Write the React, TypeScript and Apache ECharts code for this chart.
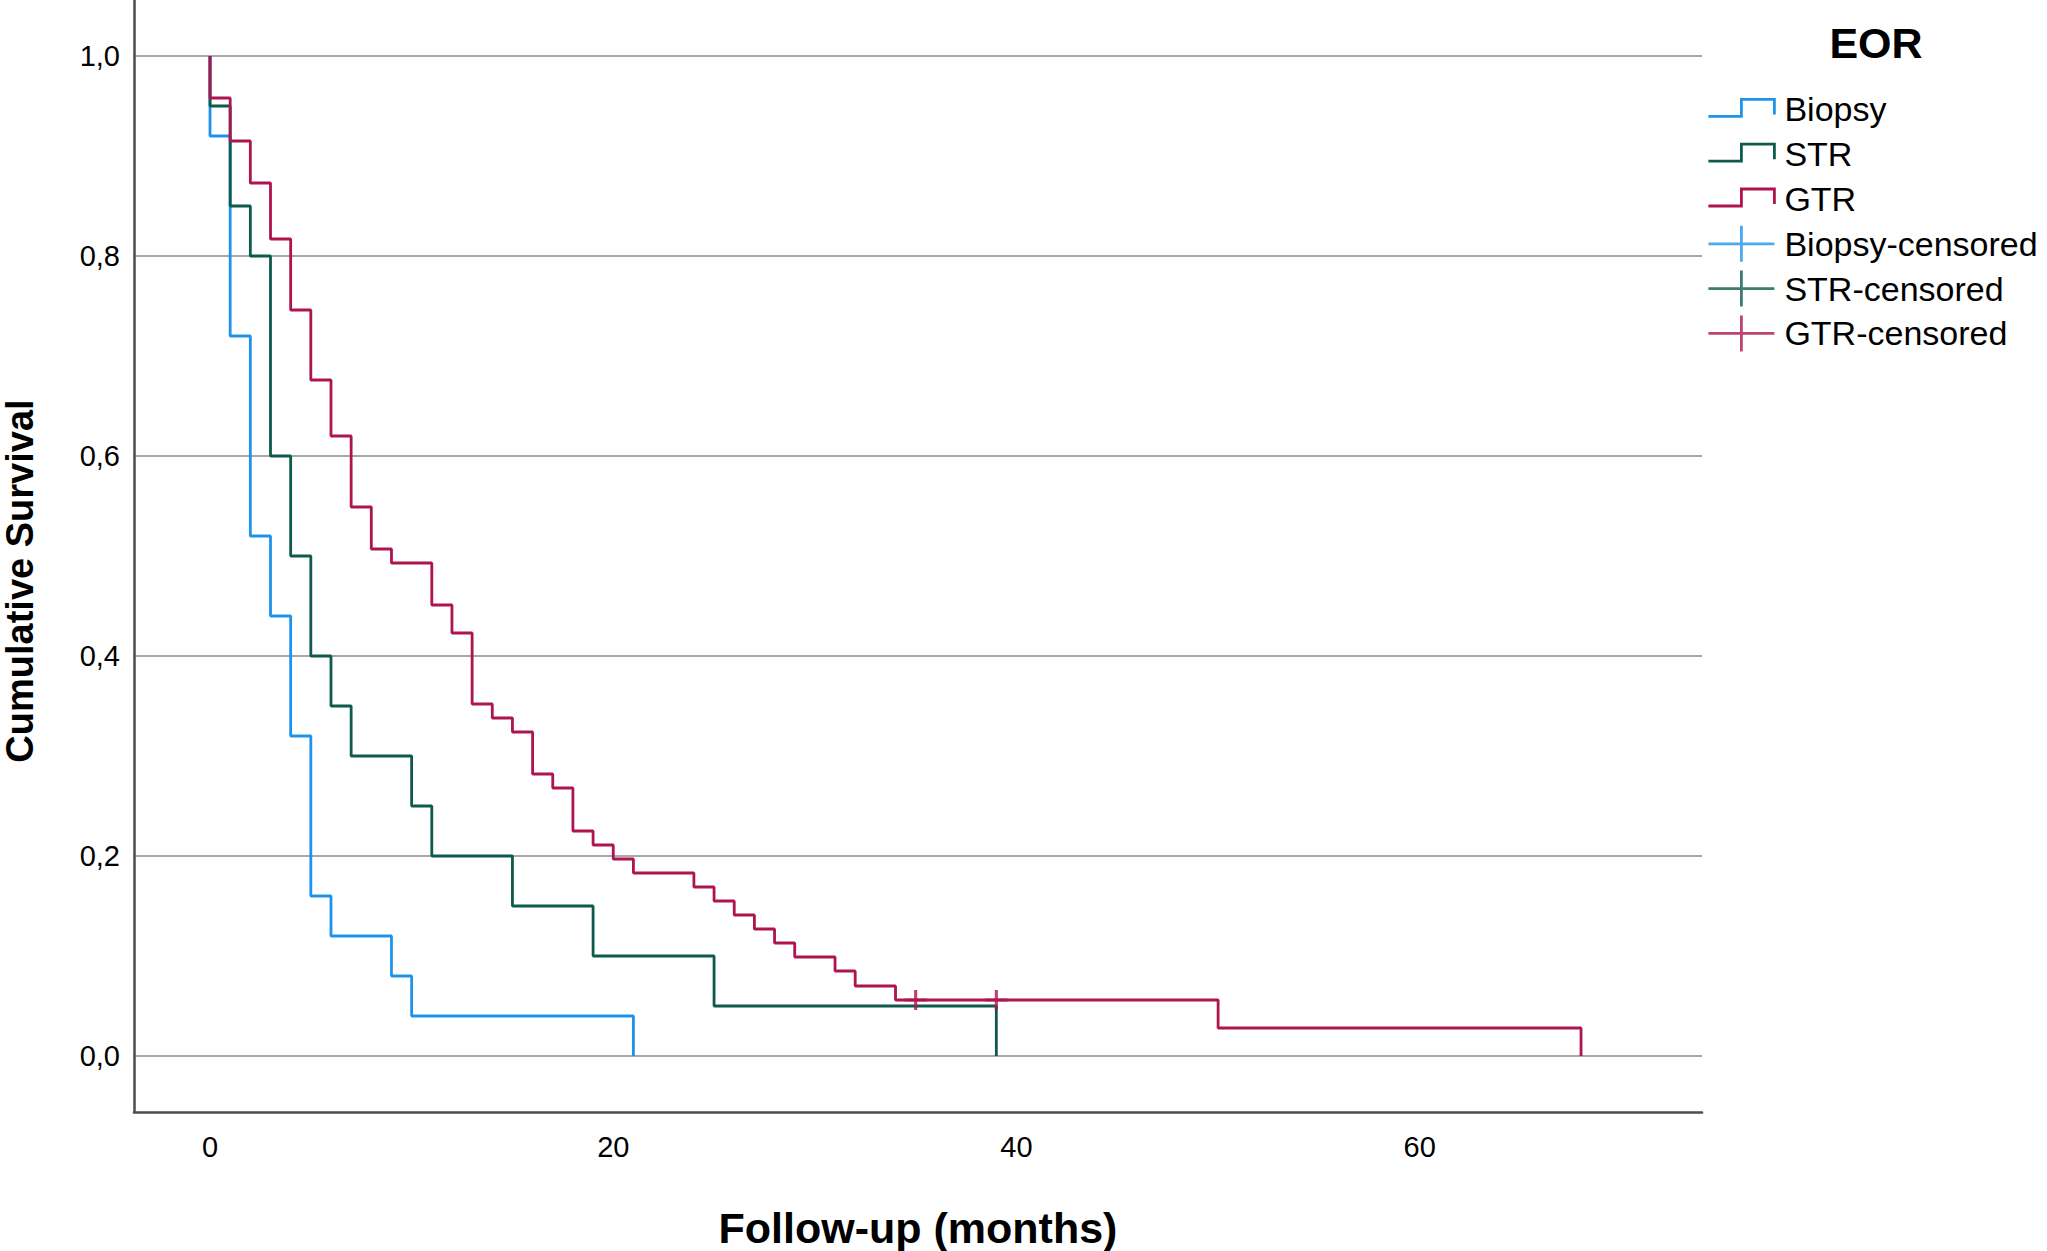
import React, { useEffect, useRef } from "react";
import * as echarts from "echarts";

// ---- data ----
const biopsyTimes = [0, 1, 2, 3, 4, 5, 6, 9, 10, 21];
const biopsySurv = [0.92, 0.72, 0.52, 0.44, 0.32, 0.16, 0.12, 0.08, 0.04, 0];

const strTimes = [0, 1, 2, 3, 4, 5, 6, 7, 10, 11, 15, 19, 25, 39];
const strSurv = [0.95, 0.85, 0.8, 0.6, 0.5, 0.4, 0.35, 0.3, 0.25, 0.2, 0.15, 0.1, 0.05, 0];

const gtrTimes = [0, 1, 2, 3, 4, 5, 6, 7, 8, 9, 11, 12, 13, 14, 15, 16, 17, 18, 19, 20, 21, 24, 25, 26, 27, 28, 29, 31, 32, 34, 50, 68];
const gtrSurv = [0.958, 0.915, 0.873, 0.817, 0.746, 0.676, 0.62, 0.549, 0.507, 0.493, 0.451, 0.423, 0.352, 0.338, 0.324, 0.282, 0.268, 0.225, 0.211, 0.197, 0.183, 0.169, 0.155, 0.141, 0.127, 0.113, 0.099, 0.085, 0.07, 0.056, 0.028, 0];

const gtrCensTimes = [35, 39];
const gtrCensSurv = [0.056, 0.056];

const groupNames = ["Biopsy", "STR", "GTR"];
const censoredNames = ["Biopsy-censored", "STR-censored", "GTR-censored"];
const legendTitle = "EOR";
const xTitle = "Follow-up (months)";
const yTitle = "Cumulative Survival";

const COLORS = ["#1f93ea", "#0e5a4d", "#ad1450"];
const FONT = "'Liberation Sans', Arial, sans-serif";

const STEP_ICON = "path://M0,0 M66,36 M0,25 L33,25 L33,8 L66,8 L66,23";
const CROSS_ICON = "path://M0,18 L66,18 M33,0 L33,36";
const CENSOR_MARK = "path://M0,10 L22,10 M11,0 L11,20";

function km(times: number[], surv: number[]) {
  return [[0, 1], ...times.map((t, i) => [t, surv[i]])];
}

export default function App() {
  const ref = useRef<HTMLDivElement>(null);

  useEffect(() => {
    if (!ref.current) return;
    const chart = echarts.init(ref.current, undefined, { renderer: "svg" });

    const curves = [
      km(biopsyTimes, biopsySurv),
      km(strTimes, strSurv),
      km(gtrTimes, gtrSurv),
    ];
    const censored = [[], [], gtrCensTimes.map((t, i) => [t, gtrCensSurv[i]])];

    const series: any[] = [];
    groupNames.forEach((name, i) => {
      series.push({
        name,
        type: "line",
        step: "end",
        data: curves[i],
        symbol: "none",
        showSymbol: false,
        lineStyle: { color: COLORS[i], width: 2.8 },
        itemStyle: { color: COLORS[i] },
        z: 2 + i,
        silent: true,
      });
    });
    censoredNames.forEach((name, i) => {
      series.push({
        name,
        type: "scatter",
        data: censored[i],
        symbol: CENSOR_MARK,
        symbolSize: [22, 20],
        itemStyle: { color: "transparent", borderColor: COLORS[i], borderWidth: 3 },
        z: 6,
        silent: true,
      });
    });

    const legendData = [
      ...groupNames.map((name, i) => ({
        name,
        icon: STEP_ICON,
        itemStyle: { color: "transparent", borderColor: COLORS[i], borderWidth: 2.8 },
      })),
      ...censoredNames.map((name, i) => ({
        name,
        icon: CROSS_ICON,
        itemStyle: { color: "transparent", borderColor: COLORS[i], borderWidth: 2.8 },
      })),
    ];

    const isMultiple = (v: number, step: number) =>
      Math.abs(v / step - Math.round(v / step)) < 1e-6;

    chart.setOption({
      animation: false,
      backgroundColor: "#ffffff",
      textStyle: { fontFamily: FONT },
      title: {
        text: legendTitle,
        left: 1876,
        top: 21,
        textAlign: "center",
        padding: 0,
        textStyle: { fontSize: 43, fontWeight: "bold", color: "#000", fontFamily: FONT },
      },
      legend: {
        orient: "vertical",
        left: 1707,
        top: 90,
        padding: 0,
        itemWidth: 66,
        itemHeight: 36,
        itemGap: 6,
        selectedMode: false,
        symbolKeepAspect: false,
        textStyle: { fontSize: 34, color: "#000", fontFamily: FONT, padding: [0, 0, 0, 5] },
        data: legendData,
      },
      grid: {
        left: 134,
        right: 345,
        top: 0,
        bottom: 139,
        containLabel: false,
        outerBoundsMode: "none",
      },
      xAxis: {
        type: "value",
        min: -3.77,
        max: 74,
        splitNumber: 4,
        axisLine: { show: true, onZero: false, lineStyle: { color: "#4d4d4d", width: 2.5 } },
        axisTick: { show: false },
        splitLine: { show: false },
        axisLabel: {
          fontSize: 29,
          color: "#000",
          margin: 20,
          fontFamily: FONT,
          formatter: (v: number) => (isMultiple(v, 20) ? String(Math.round(v)) : ""),
        },
        name: xTitle,
        nameLocation: "middle",
        nameGap: 94,
        nameTextStyle: { fontSize: 43, fontWeight: "bold", color: "#000", fontFamily: FONT },
      },
      yAxis: {
        type: "value",
        min: -0.056,
        max: 1.056,
        splitNumber: 5,
        axisLine: { show: true, onZero: false, lineStyle: { color: "#4d4d4d", width: 2.5 } },
        axisTick: { show: false },
        splitLine: {
          show: true,
          showMinLine: false,
          showMaxLine: false,
          lineStyle: { color: "#a8a8a8", width: 2 },
        },
        axisLabel: {
          fontSize: 29,
          color: "#000",
          margin: 14,
          fontFamily: FONT,
          formatter: (v: number) =>
            isMultiple(v, 0.2) ? (Math.round(v * 10) / 10).toFixed(1).replace(".", ",") : "",
        },
        name: yTitle,
        nameLocation: "middle",
        nameGap: 95,
        nameTextStyle: {
          fontSize: 38,
          fontWeight: "bold",
          color: "#000",
          fontFamily: FONT,
          padding: [0, 50, 0, 0],
        },
      },
      series,
    });

    return () => chart.dispose();
  }, []);

  return (
    <div
      ref={ref}
      style={{ position: "fixed", left: 0, top: 0, width: 2047, height: 1251, background: "#fff" }}
    />
  );
}
